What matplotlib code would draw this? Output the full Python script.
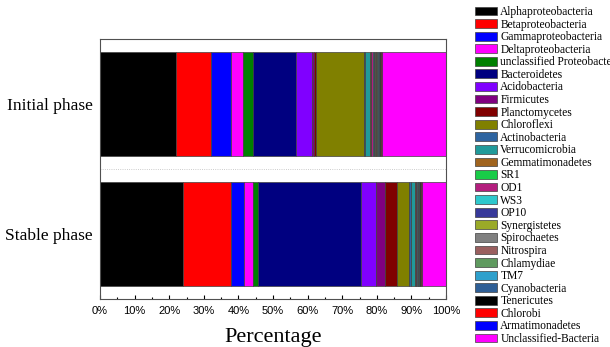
import numpy as np
import matplotlib.pyplot as plt

phases = ["Initial phase", "Stable phase"]

taxa = ["Alphaproteobacteria", "Betaproteobacteria", "Gammaproteobacteria",
        "Deltaproteobacteria", "unclassified Proteobacteria", "Bacteroidetes",
        "Acidobacteria", "Firmicutes", "Planctomycetes", "Chloroflexi",
        "Actinobacteria", "Verrucomicrobia", "Gemmatimonadetes", "SR1", "OD1",
        "WS3", "OP10", "Synergistetes", "Spirochaetes", "Nitrospira",
        "Chlamydiae", "TM7", "Cyanobacteria", "Tenericutes", "Chlorobi",
        "Armatimonadetes", "Unclassified-Bacteria"]

colors = ["#000000", "#FF0000", "#0000FF", "#FF00FF", "#008000", "#000080",
          "#8000FF", "#800080", "#800000", "#808000", "#2E64A0", "#209A9A",
          "#A0641E", "#19CC48", "#B41E7E", "#2EC8CC", "#37399A", "#9AAA28",
          "#808080", "#9A5F5F", "#5F9A5F", "#2EA0CC", "#2F5F96", "#000000",
          "#FF0000", "#0000FF", "#FF00FF"]

# percentages, same order as taxa
initial = [22.0, 10.1, 5.8, 3.4, 2.9, 12.4, 4.7, 0.6, 0.6, 13.9,
           0.3, 1.2, 0.3, 0.2, 0.5, 0.3, 0.3, 0.2, 0.2, 0.3,
           0.2, 0.3, 0.3, 0.3, 0.1, 0.1, 18.5]
stable = [24.1, 13.8, 3.8, 2.6, 1.3, 29.9, 4.4, 2.4, 3.4, 3.5,
          0.8, 1.1, 0.2, 0.1, 0.2, 0.2, 0.1, 0.1, 0.1, 0.1,
          0.1, 0.1, 0.2, 0.3, 0.1, 0.1, 6.9]

fig = plt.figure(figsize=(6.1, 3.47), dpi=100)
ax = fig.add_axes([100 / 610, 48 / 347, 346 / 610, 260 / 347])

data = np.array([initial, stable])
y = np.arange(len(phases))
left = np.zeros(len(phases))
for i, name in enumerate(taxa):
    ax.barh(y, data[:, i], left=left, height=0.8, color=colors[i],
            edgecolor="#404040", linewidth=0.5, label=name)
    left += data[:, i]

ax.axhline(0.5, color="#bbbbbb", linestyle=":", linewidth=0.6)

ax.set_xlim(0, 100)
ax.set_ylim(-0.5, 1.5)
ax.invert_yaxis()
ax.set_yticks(y)
ax.set_yticklabels(phases, family="Liberation Serif", fontsize=12.5)
ax.tick_params(axis="y", length=0, pad=5)

ax.set_xticks(np.arange(0, 101, 10))
ax.set_xticklabels([f"{v}%" for v in range(0, 101, 10)],
                   family="Liberation Sans", fontsize=8)
ax.set_xticks(np.arange(5, 100, 10), minor=True)
ax.tick_params(axis="x", which="major", direction="in", length=3, width=0.8, pad=5)
ax.tick_params(axis="x", which="minor", direction="in", length=1.5, width=0.8)
ax.set_xlabel("Percentage", family="Liberation Serif", fontsize=16, labelpad=9)

for s in ax.spines.values():
    s.set_color("#505050")
    s.set_linewidth(0.8)

fig.legend(loc="upper left", bbox_to_anchor=(475 / 610, 1 - 6 / 347),
           frameon=False, borderpad=0, borderaxespad=0,
           prop={"family": "Liberation Serif", "size": 8.3},
           handlelength=1.9, handleheight=0.8, handletextpad=0.3,
           labelspacing=0.05)

fig.savefig("out.png", dpi=100)
